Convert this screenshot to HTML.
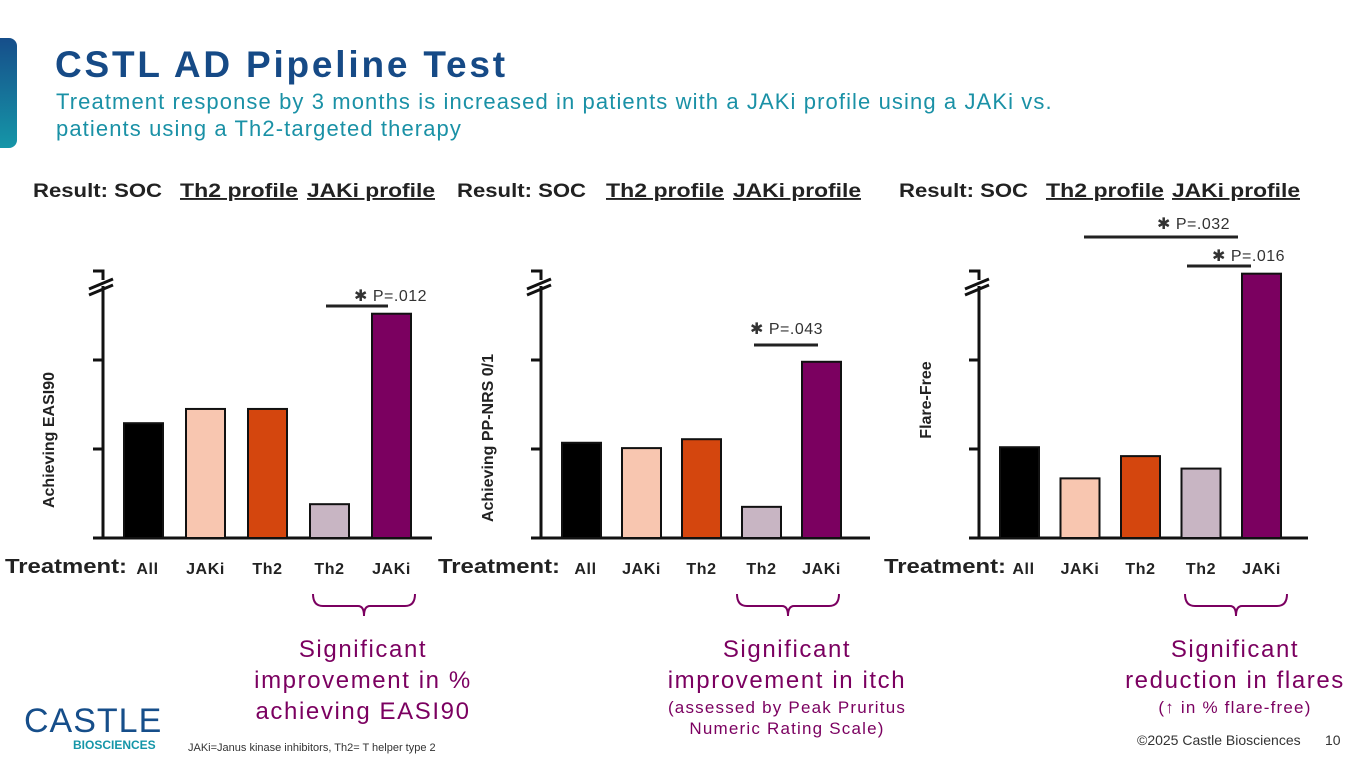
<!DOCTYPE html>
<html><head><meta charset="utf-8"><style>
body{margin:0;width:1365px;height:768px;overflow:hidden;background:#fff;font-family:"Liberation Sans",sans-serif;position:relative}
.t{position:absolute;white-space:nowrap}
</style></head><body>
<div style="position:absolute;left:-10px;top:38px;width:27px;height:110px;border-radius:8px;background:linear-gradient(#164e8a,#1596a8)"></div>
<div class="t" style="left:55px;top:44px;font-size:37px;letter-spacing:2.8px;font-weight:bold;color:#164a86">CSTL AD Pipeline Test</div>
<div class="t" style="left:56px;top:88px;font-size:22px;letter-spacing:1.1px;line-height:27px;color:#1a91a6">Treatment response by 3 months is increased in patients with a JAKi profile using a JAKi vs.<br>patients using a Th2-targeted therapy</div>
<svg id="chart" width="1365" height="768" style="position:absolute;left:0;top:0" font-family="Liberation Sans, sans-serif"></svg>
<div class="t" style="left:24px;top:704px;font-size:34px;color:#164e8a;letter-spacing:1px;line-height:34px">CASTLE</div>
<div class="t" style="left:73px;top:738px;font-size:12px;color:#1596a8;font-weight:bold">BIOSCIENCES</div>
<div class="t" style="left:188px;top:742px;font-size:11px;color:#333">JAKi=Janus kinase inhibitors, Th2= T helper type 2</div>
<div class="t" style="left:1137px;top:732px;font-size:14px;color:#333">©2025 Castle Biosciences</div>
<div class="t" style="left:1325px;top:732px;font-size:14px;color:#333">10</div>
<script>
const categories=["All","JAKi","Th2","Th2","JAKi"];
const colors=["#000000","#f8c6b0","#d4460e","#c8b5c3","#7b0060"];
const valuesEASI=[1.29,1.45,1.45,0.38,2.52];
const valuesItch=[1.07,1.01,1.11,0.35,1.98];
const valuesFlare=[1.02,0.67,0.92,0.78,2.97];
const yTicks=[0,1,2,3];
const yTitles=["Achieving EASI90","Achieving PP-NRS 0/1","Flare-Free"];
const captions=[["Significant","improvement in %","achieving EASI90"],["Significant","improvement in itch"],["Significant","reduction in flares"]];
const captionSmall=[[],["(assessed by Peak Pruritus","Numeric Rating Scale)"],["(↑ in % flare-free)"]];
const NS="http://www.w3.org/2000/svg";
const svg=document.getElementById('chart');
function mk(tag,attrs,parent){const e=document.createElementNS(NS,tag);for(const k in attrs)e.setAttribute(k,attrs[k]);(parent||svg).appendChild(e);return e;}
function txt(x,y,s,attrs){const e=mk('text',Object.assign({x:x,y:y},attrs));e.textContent=s;return e;}
const base=538,unit=89;
function yS(v){return base-v*unit;}
const panels=[{ax:103,vals:valuesEASI,step:62,hx:[33,180,307],tx:5,yt:[48,440],bo:210},{ax:541,vals:valuesItch,step:60,hx:[457,606,733],tx:438,yt:[487,438],bo:196},{ax:979,vals:valuesFlare,step:60.5,hx:[899,1046,1172],tx:884,yt:[925,400],bo:206}];
panels.forEach((p,pi)=>{
  const ax=p.ax;
  const h1=txt(p.hx[0],197,"Result: SOC",{'font-size':19,'font-weight':'bold',fill:'#222',textLength:129,lengthAdjust:'spacingAndGlyphs'});
  
  const h2=txt(p.hx[1],197,"Th2 profile",{'font-size':19,'font-weight':'bold',fill:'#222','text-decoration':'underline',textLength:118,lengthAdjust:'spacingAndGlyphs'});
  
  const h3=txt(p.hx[2],197,"JAKi profile",{'font-size':19,'font-weight':'bold',fill:'#222','text-decoration':'underline',textLength:128,lengthAdjust:'spacingAndGlyphs'});
  
  const ya=mk('line',{x1:ax,y1:286,x2:ax,y2:base,stroke:'#111','stroke-width':3});
  
  mk('path',{d:`M${ax-10} 271 L${ax} 271 L${ax} 280`,fill:'none',stroke:'#111','stroke-width':3});
  mk('line',{x1:ax-14,y1:289,x2:ax+10,y2:279,stroke:'#111','stroke-width':3});
  mk('line',{x1:ax-14,y1:295,x2:ax+10,y2:285,stroke:'#111','stroke-width':3});
  const xa=mk('line',{x1:ax-10,y1:base,x2:ax+329,y2:base,stroke:'#111','stroke-width':3});
  
  yTicks.forEach(t=>{if(t>0&&t<3)mk('line',{x1:ax-10,y1:yS(t),x2:ax,y2:yS(t),stroke:'#111','stroke-width':3});});
  const yt=txt(0,0,yTitles[pi],{'font-size':16,'font-weight':'bold',fill:'#222','text-anchor':'middle',transform:`translate(${p.yt[0]+6},${p.yt[1]}) rotate(-90)`});
  
  const tr=txt(p.tx,573,"Treatment:",{'font-size':20,'font-weight':'bold',fill:'#222',textLength:122,lengthAdjust:'spacingAndGlyphs'});
  
  p.vals.forEach((v,i)=>{
    const x=ax+21+i*p.step;
    const b=mk('rect',{x:x,y:yS(v),width:39,height:base-yS(v),fill:colors[i],stroke:'#111','stroke-width':2});
    
    
    const l=txt(x+19.5+(i==0?4:0),574,categories[i],{'font-size':16,'letter-spacing':0.6,'font-weight':'bold',fill:'#222','text-anchor':'middle'});
    
  });
  const bx1=ax+p.bo,bx2=bx1+102;
  const br=mk('path',{d:`M${bx1} 594 Q${bx1} 606 ${bx1+10} 606 L${(bx1+bx2)/2-6} 606 Q${(bx1+bx2)/2} 606 ${(bx1+bx2)/2} 616 Q${(bx1+bx2)/2} 606 ${(bx1+bx2)/2+6} 606 L${bx2-10} 606 Q${bx2} 606 ${bx2} 594`,fill:'none',stroke:'#7b0060','stroke-width':2});
  
  const cx=(bx1+bx2)/2-1;
  captions[pi].forEach((s,k)=>{const c=txt(cx,657+k*31,s,{'font-size':24,'letter-spacing':1.6,fill:'#7b0060','text-anchor':'middle'});});
  captionSmall[pi].forEach((s,k)=>{const c=txt(cx,713+k*21,s,{'font-size':17,'letter-spacing':1.2,fill:'#7b0060','text-anchor':'middle'});});
});
function sig(x1,x2,y,label,tx,ty){
  const l=mk('line',{x1:x1,y1:y,x2:x2,y2:y,stroke:'#222','stroke-width':3});
  
  const t=txt(tx,ty,"✱ "+label,{'font-size':16,'letter-spacing':0.5,fill:'#333'});
  
}
sig(326,388,306,"P=.012",354,301);
sig(754,818,345,"P=.043",750,334);
sig(1084,1238,237,"P=.032",1157,229);
sig(1187,1251,266,"P=.016",1212,261);
</script>
</body></html>
